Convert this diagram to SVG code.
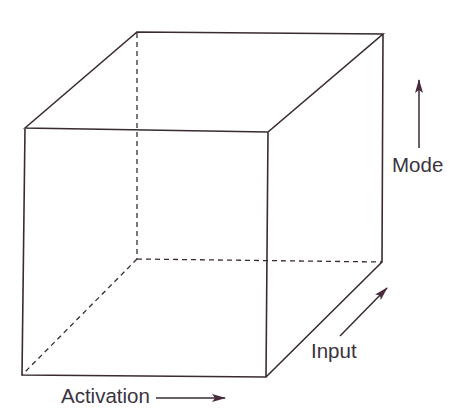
<svg xmlns="http://www.w3.org/2000/svg" width="457" height="419" viewBox="0 0 457 419">
<defs>
<style>
.e{fill:none;stroke:#3a2b33;stroke-width:1.6;stroke-linejoin:miter}
.d{fill:none;stroke:#3a2b33;stroke-width:1.3;stroke-dasharray:5,4}
.a{fill:none;stroke:#3a2b33;stroke-width:1.5}
.t{font-family:"Liberation Sans",Arial,sans-serif;font-size:20.5px;fill:#3a3340}
</style>
<marker id="ah" viewBox="0 0 14 10" refX="13" refY="5" markerWidth="14" markerHeight="10" markerUnits="userSpaceOnUse" orient="auto">
<path d="M0,1 L14,5 L0,9 L3,5 Z" fill="#4a2b3e"/>
</marker>
</defs>
<rect width="457" height="419" fill="#ffffff"/>
<g id="cube">
<path class="d" d="M137,33 L137,259 M137,259 L382,262 M137,259 L22,375"/>
<path class="e" d="M25,128 L137,32 L383,34 L268,132 Z M25,128 L22,375 L266,377 L268,132 M266,377 L382,262 L383,34"/>
</g>
<g id="connectors">
<line class="a" x1="419" y1="148" x2="419" y2="80" marker-end="url(#ah)"/>
<line class="a" x1="340" y1="336" x2="387" y2="288" marker-end="url(#ah)"/>
<line class="a" x1="156" y1="398" x2="225" y2="398" marker-end="url(#ah)"/>
</g>
<g id="label-mode"><text class="t" x="392" y="172">Mode</text></g>
<g id="label-input"><text class="t" x="311" y="358">Input</text></g>
<g id="label-activation"><text class="t" x="61" y="403">Activation</text></g>
</svg>
